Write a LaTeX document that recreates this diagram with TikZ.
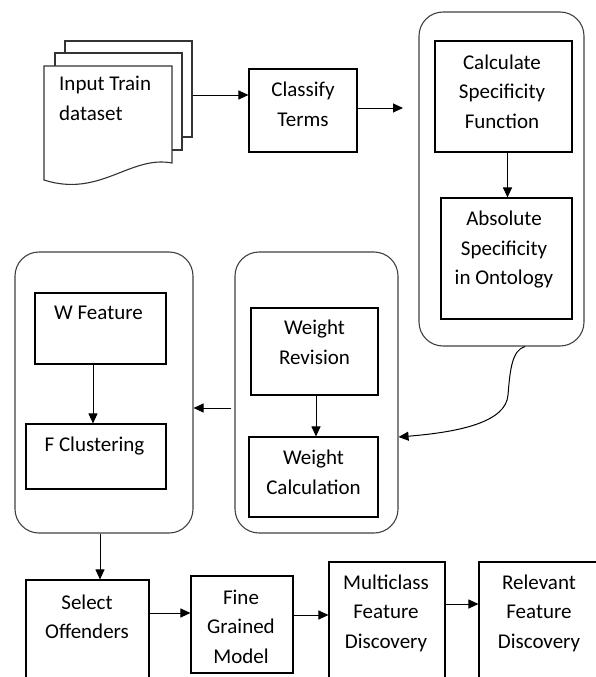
\documentclass[tikz,border=0pt]{standalone}
\usepackage{fontspec}
\setmainfont{Carlito}
\usetikzlibrary{arrows.meta}
\begin{document}
\begin{tikzpicture}[x=1pt,y=-1pt,
  bx/.style 2 args={draw=black, line width=1.1pt, rectangle, minimum width=#1, minimum height=#2, inner sep=0pt, fill=white},
  grp/.style 2 args={draw=black!75, line width=1.1pt, rectangle, rounded corners=24pt, minimum width=#1, minimum height=#2, inner sep=0pt},
  txt/.style={align=center, inner sep=0pt, font=\fontsize{21}{29.5}\selectfont},
  arr/.style={draw=black, line width=1pt, -{Triangle[length=10pt,width=9pt]}},
  page/.style={draw=black!80, line width=1.1pt, fill=white}]
\clip (0,0) rectangle (596,677);
% document stack
\node[bx={127pt}{96pt}, draw=black!80] (p3) at (128.5,89) {};
\node[bx={127pt}{97pt}, draw=black!80] (p2) at (118.5,101.5) {};
\draw[page] (44,66) -- (172,66) -- (172,163) .. controls (130,155) and (100,198) .. (44,180) -- cycle;
\node[txt, align=left, anchor=west] (doc) at (59,99.5) {\strut Input Train\\\strut dataset};
% classify
\node[bx={108pt}{83pt}] (clsf) at (303,110.5) {};
\node[txt] (clsft) at (303,105.5) {\strut Classify\\\strut Terms};
\coordinate (c1) at (403,108);
% group 1
\node[grp={165pt}{334pt}] (grp1) at (501.5,179) {};
\node[bx={137pt}{111pt}] (calc) at (503.5,96.5) {};
\node[txt] (calct) at (502,93) {\strut Calculate\\\strut Specificity\\\strut Function};
\node[bx={131pt}{121pt}] (abs) at (506.5,258.5) {};
\node[txt] (abst) at (504,249.5) {\strut Absolute\\\strut Specificity\\\strut in Ontology};
% group 2
\node[grp={163pt}{281pt}] (grp2) at (316.5,392.5) {};
\node[bx={127pt}{87pt}] (wrev) at (314.5,351.5) {};
\node[txt] (wrevt) at (314.5,343.5) {\strut Weight\\\strut Revision};
\node[bx={129pt}{80pt}] (wcal) at (313.5,477) {};
\node[txt] (wcalt) at (313.5,473.5) {\strut Weight\\\strut Calculation};
% group 3
\node[grp={178pt}{281pt}] (grp3) at (104,392.5) {};
\node[bx={131pt}{71pt}] (wf) at (100.5,328.5) {};
\node[txt] (wft) at (98.5,314) {\strut W Feature};
\node[bx={140pt}{65pt}] (fc) at (96,456.5) {};
\node[txt] (fct) at (94.5,446) {\strut F Clustering};
% bottom row
\node[bx={123pt}{130pt}] (sel) at (87.5,645) {};
\node[txt] (selt) at (87,618) {\strut Select\\\strut Offenders};
\node[bx={102pt}{97pt}] (fg) at (242,624.5) {};
\node[txt] (fgt) at (241,628) {\strut Fine\\\strut Grained\\\strut Model};
\node[bx={116pt}{148pt}] (mc) at (387,636) {};
\node[txt] (mct) at (386,613) {\strut Multiclass\\\strut Feature\\\strut Discovery};
\node[bx={121pt}{148pt}] (rf) at (539.5,636) {};
\node[txt] (rft) at (539,613) {\strut Relevant\\\strut Feature\\\strut Discovery};
% connectors
\draw[arr] ([yshift=-6pt]p3.east) -- ([yshift=-6pt]p3.east -| clsf.west);
\draw[arr] ([yshift=2.5pt]clsf.east) -- (c1);
\draw[arr] ([xshift=4pt]calc.south) -- ([xshift=4pt]calc.south |- abs.north);
\draw[arr] ([xshift=23.5pt]grp1.south) .. controls (512,350) and (510,370) .. (508,395) .. controls (506,422) and (460,432) .. ([yshift=-44.5pt]grp2.east);
\draw[arr] ([xshift=1.5pt]wrev.south) -- ([xshift=1.5pt]wrev.south |- wcal.north);
\draw[arr] ([xshift=-3pt,yshift=-15.5pt]grp2.west) -- ([yshift=-15.5pt]grp2.west -| grp3.east);
\draw[arr] ([xshift=-7.5pt]wf.south) -- ([xshift=-7.5pt]wf.south |- fc.north);
\draw[arr] ([xshift=-4pt]grp3.south) -- ([xshift=-4pt]grp3.south |- sel.north);
\draw[arr] ([yshift=32pt]sel.east) -- ([yshift=32pt]sel.east -| fg.west);
\draw[arr] ([yshift=9.5pt]fg.east) -- ([yshift=9.5pt]fg.east -| mc.west);
\draw[arr] ([yshift=32pt]mc.east) -- ([yshift=32pt]mc.east -| rf.west);
\end{tikzpicture}
\end{document}
